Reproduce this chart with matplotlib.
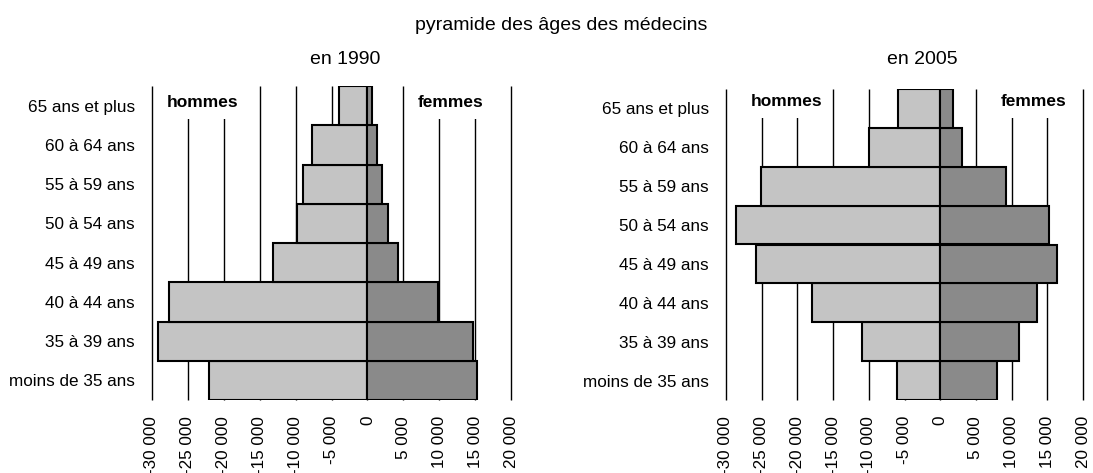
import matplotlib
matplotlib.use("Agg")
import matplotlib.pyplot as plt

plt.rcParams['font.family'] = ['Liberation Sans', 'DejaVu Sans']

# tranches d'âge, de bas en haut
ages = ["moins de 35 ans", "35 à 39 ans", "40 à 44 ans", "45 à 49 ans",
        "50 à 54 ans", "55 à 59 ans", "60 à 64 ans", "65 ans et plus"]

hommes_1990 = [22100, 29100, 27600, 13200, 9750, 9000, 7700, 3900]
femmes_1990 = [15300, 14700, 9850, 4300, 2900, 2100, 1400, 600]

hommes_2005 = [6000, 11000, 18000, 25800, 28600, 25100, 9950, 5900]
femmes_2005 = [7950, 11000, 13550, 16300, 15250, 9150, 3100, 1800]

ticks = [-30000, -25000, -20000, -15000, -10000, -5000, 0, 5000, 10000, 15000, 20000]
tick_labels = [f"{t:,}".replace(",", " ") for t in ticks]

W, H = 1093, 473
fig = plt.figure(figsize=(W / 100, H / 100), dpi=100)
fig.text(561 / W, 1 - 26 / H, "pyramide des âges des médecins", ha="center", va="center", fontsize=14)


def pyramide(px, hommes, femmes, pos_h, pos_f, y_txt):
    x0, x1, top, bottom = px
    ax = fig.add_axes([x0 / W, 1 - bottom / H, (x1 - x0) / W, (bottom - top) / H])
    y = list(range(len(ages)))
    ax.vlines(ticks, -0.5, len(ages) - 0.5, color="black", lw=1, zorder=0, clip_on=False)
    ax.barh(y, [-h for h in hommes], height=1, color="#c4c4c4", edgecolor="black", lw=1.5, zorder=2)
    ax.barh(y, femmes, height=1, color="#8a8a8a", edgecolor="black", lw=1.5, zorder=2)
    ax.set_xlim(ticks[0], ticks[-1])
    ax.set_ylim(-0.5, len(ages) - 0.5)
    ax.set_yticks(y)
    ax.set_yticklabels(ages, fontsize=12.3)
    ax.set_xticks(ticks)
    ax.set_xticklabels(tick_labels, rotation=90, fontsize=12.3, va="top")
    ax.tick_params(length=0)
    ax.tick_params(axis="y", pad=12.5)
    ax.tick_params(axis="x", pad=11.5)
    for s in ax.spines.values():
        s.set_visible(False)
    box = dict(fc="white", ec="none", pad=6.5)
    ax.text(pos_h, y_txt, "hommes", ha="center", va="center", fontsize=12.5, fontweight="bold", bbox=box, zorder=1)
    ax.text(pos_f, y_txt, "femmes", ha="center", va="center", fontsize=12.5, fontweight="bold", bbox=box, zorder=1)
    return ax


pyramide((152, 511, 86, 400), hommes_1990, femmes_1990, -22980, 11560, 7.09)
pyramide((726, 1083, 89, 400), hommes_2005, femmes_2005, -21570, 13025, 7.17)
fig.text(345 / W, 1 - 60 / H, "en 1990", ha="center", va="center", fontsize=14)
fig.text(922 / W, 1 - 60 / H, "en 2005", ha="center", va="center", fontsize=14)

fig.savefig("out.png", dpi=100)
